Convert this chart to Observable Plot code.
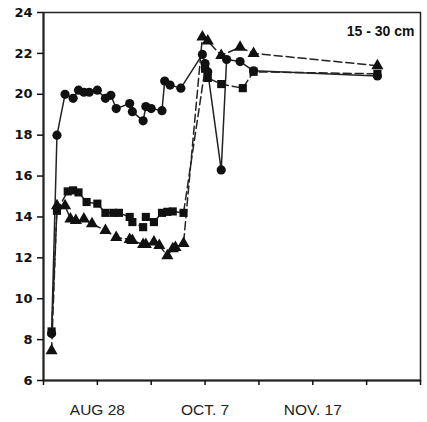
<!DOCTYPE html>
<html>
<head>
<meta charset="utf-8">
<script src="https://cdn.jsdelivr.net/npm/d3@7"></script>
<script src="https://cdn.jsdelivr.net/npm/@observablehq/plot@0.6"></script>
<style>
  html, body { margin: 0; padding: 0; background: #fff; }
</style>
</head>
<body>
<div id="chart"></div>
<script>
// days since Aug 8
const circleDays = [3, 5, 8, 11, 13, 15, 17, 20, 23, 25, 27, 32, 33, 37, 38, 40, 44, 45, 47, 51, 59, 60, 61, 66, 68, 73, 78, 124];
const circleVals = [8.3, 18.0, 20.0, 19.8, 20.2, 20.1, 20.1, 20.2, 19.8, 19.95, 19.3, 19.55, 19.15, 18.7, 19.4, 19.3, 19.2, 20.65, 20.45, 20.3, 21.95, 21.5, 21.1, 16.3, 21.7, 21.6, 21.15, 20.9];

const squareDays = [3, 5, 9, 11, 13, 16, 20, 23, 26, 28, 32, 33, 37, 38, 41, 44, 46, 48, 52, 60, 61, 66, 74, 78, 124];
const squareVals = [8.4, 14.3, 15.25, 15.3, 15.2, 14.73, 14.65, 14.2, 14.2, 14.2, 14.0, 13.75, 13.5, 14.0, 13.75, 14.2, 14.25, 14.27, 14.2, 21.25, 20.8, 20.5, 20.3, 21.1, 21.0];

const triangleDays = [3, 5, 8, 10, 12, 15, 18, 23, 27, 32, 33, 37, 38, 41, 43, 46, 48, 49, 52, 59, 61, 66, 73, 78, 124];
const triangleVals = [7.45, 14.55, 14.55, 13.9, 13.83, 13.9, 13.67, 13.34, 13.0, 12.9, 12.85, 12.65, 12.65, 12.77, 12.6, 12.1, 12.45, 12.5, 12.7, 22.8, 22.6, 21.9, 22.3, 22.0, 21.4];

const xTicks = [0, 20, 40, 60, 80, 100, 120, 140];
const xTickLabels = {20: "AUG 28", 60: "OCT. 7", 100: "NOV. 17"};
const yTicks = [6, 8, 10, 12, 14, 16, 18, 20, 22, 24];
const panelLabel = "15 - 30 cm";

const circles = circleDays.map((d, i) => ({day: d, value: circleVals[i]}));
const squares = squareDays.map((d, i) => ({day: d, value: squareVals[i]}));
const triangles = triangleDays.map((d, i) => ({day: d, value: triangleVals[i]}));

const chart = Plot.plot({
  width: 427,
  height: 422,
  marginLeft: 43,
  marginRight: 7,
  marginTop: 12,
  marginBottom: 42,
  style: {fontFamily: "'Liberation Sans', Arial, sans-serif", background: "#fff", color: "#111"},
  x: {domain: [0, 140]},
  y: {domain: [6, 24]},
  marks: [
    Plot.frame({stroke: "#222", strokeWidth: 1.5}),
    Plot.ruleX([0], {stroke: "#222", strokeWidth: 2}),
    Plot.ruleY([6], {stroke: "#222", strokeWidth: 2}),
    Plot.axisY({ticks: yTicks, tickSize: 6, tickPadding: 5, tickFormat: d => d, fontWeight: "bold", fontSize: 13, fontFamily: "'DejaVu Sans', sans-serif", label: null, strokeWidth: 1.5}),
    Plot.axisX({ticks: xTicks, tickSize: 5, tickPadding: 18, tickFormat: d => xTickLabels[d] || "", fontSize: 15.5, letterSpacing: "0.8px", label: null, strokeWidth: 1.5, fill: "#222"}),
    Plot.lineY(squares, {x: "day", y: "value", stroke: "#222", strokeWidth: 1.5, strokeDasharray: "8,4"}),
    Plot.lineY(triangles, {x: "day", y: "value", stroke: "#222", strokeWidth: 1.5, strokeDasharray: "8,4"}),
    Plot.lineY(circles, {x: "day", y: "value", stroke: "#222", strokeWidth: 1.5}),
    Plot.dot(squares, {x: "day", y: "value", symbol: "square", r: 4.6, fill: "#111"}),
    Plot.dot(triangles, {x: "day", y: "value", symbol: "triangle", r: 4.5, fill: "#111"}),
    Plot.dot(circles, {x: "day", y: "value", symbol: "circle", r: 4.6, fill: "#111"}),
    Plot.text([panelLabel], {frameAnchor: "top-right", dx: -6, dy: 14, fontWeight: "bold", fontSize: 14, fill: "#111"})
  ]
});
document.getElementById("chart").appendChild(chart);
</script>
</body>
</html>
